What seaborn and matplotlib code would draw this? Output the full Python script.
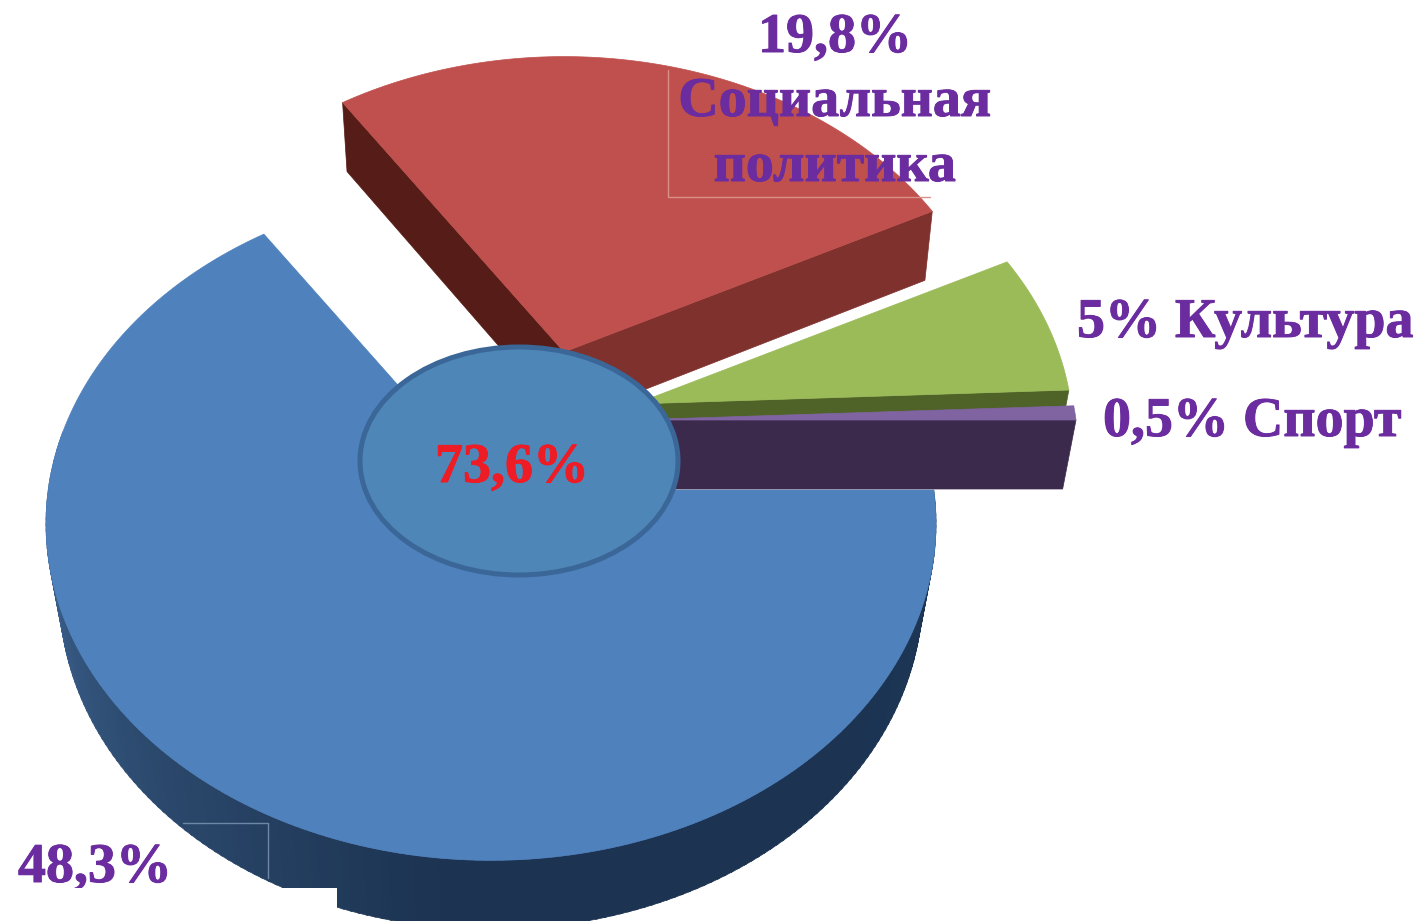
import numpy as np
import matplotlib
matplotlib.use("Agg")
import matplotlib.pyplot as plt
import matplotlib.patheffects as pe
from matplotlib.patches import Ellipse, Polygon, Rectangle
import seaborn as sns

# ---- data ----
categories = ["Прочее", "Социальная политика", "Культура", "Спорт"]
shares = [48.3, 19.8, 5.0, 0.5]
share_labels = ["48,3%", "19,8%\nСоциальная\nполитика", "5% Культура", "0,5% Спорт"]
total_label = "73,6%"

# ---- style ----
top_colors = ["#4f81bd", "#c0504d", "#9bbb59", "#8064a2"]
TEXT = "#6b2ca0"
apex = [(491, 490), (564, 352), (635, 404), (631, 420)]
scale = [0.995, 0.97, 0.98, 1.0]
shrink_x = [0.97, 0.98, 0.97, 0.97]
shrink_y = [1.0, 1.0, 0.97, 0.97]
RX, RY, P = 445.0, 335.0, 0.10
DEPTH = 69.0

sns.set_theme(style="white")
plt.rcParams["font.family"] = ["Liberation Serif", "DejaVu Serif"]

fig = plt.figure(figsize=(14.26, 9.21), dpi=100, facecolor="white")
ax = fig.add_axes([0, 0, 1, 1])
ax.set_xlim(0, 1426)
ax.set_ylim(921, 0)
ax.axis("off")


def project(theta_deg, i):
    t = np.radians(theta_deg)
    u, v = np.cos(t), np.sin(t)
    s = scale[i] / (1 - P * v)
    return apex[i][0] + RX * u * s, apex[i][1] + RY * v * s


def lower(x, y, i):
    return (apex[i][0] + shrink_x[i] * (x - apex[i][0]),
            apex[i][1] + shrink_y[i] * (y - apex[i][1]) + DEPTH)


def face(points, color, z):
    ax.add_patch(Polygon(points, closed=True, facecolor=color, edgecolor=color,
                         linewidth=0.5, zorder=z))


def radial_face(theta, i, color, z):
    x, y = project(theta, i)
    a = apex[i]
    face([a, (x, y), lower(x, y, i), (a[0], a[1] + DEPTH)], color, z)


def top_face(t0, t1, i, z):
    th = np.linspace(t0, t1, 200)
    x, y = project(th, i)
    face([apex[i]] + list(zip(x, y)), top_colors[i], z)


edges = np.concatenate([[0], np.cumsum(shares)]) / sum(shares) * 360

# blue slice: outer wall with gradient, then top
wall = sns.blend_palette(["#1d3757", "#1c3351", "#1c3351", "#2e4d72", "#41699a"], 190)
for k, c in enumerate(wall):
    x0, y0 = project(k, 0)
    x1, y1 = project(k + 1.3, 0)
    face([(x0, y0), (x1, y1), lower(x1, y1, 0), lower(x0, y0, 0)], c, 1)
top_face(edges[0], edges[1], 0, 2)

# red slice
radial_face(edges[1], 1, "#561c17", 3)
radial_face(edges[2], 1, "#7f312e", 3)
top_face(edges[1], edges[2], 1, 4)

# green slice
radial_face(edges[3], 2, "#4f6228", 5)
top_face(edges[2], edges[3], 2, 6)

# purple slice
radial_face(edges[4], 3, "#3c2a4d", 7)
top_face(edges[3], edges[4], 3, 8)

# centre disc
ax.add_patch(Ellipse((519, 461), 318, 228, facecolor="#4f86b8", edgecolor="#3a6798",
                     linewidth=3.6, zorder=9))

# pale leader-box remnants
ax.plot([668, 668, 930], [70, 197, 197], color="#dc8f8a", lw=1.0, zorder=10)
ax.plot([183, 268, 268], [823, 823, 878], color="#6d88a6", lw=1.0, zorder=10)

heavy = [pe.withStroke(linewidth=0.7, foreground=TEXT)]
font = dict(fontweight="bold", fontsize=40.3, color=TEXT, zorder=11, path_effects=heavy)
ax.text(18, 868, share_labels[0], ha="left", va="center", **font)
soc = share_labels[1].split("\n")
ax.text(835, 38, soc[0], ha="center", va="center", **font)
ax.text(835, 102, soc[1], ha="center", va="center", **font)
ax.text(835, 167, soc[2], ha="center", va="center", **font)
ax.text(1077, 323, share_labels[2], ha="left", va="center", **font)
ax.text(1103, 422, share_labels[3], ha="left", va="center", **font)
ax.text(512, 468, total_label, ha="center", va="center", fontweight="bold",
        fontsize=40.3, color="#ee1c25", zorder=11,
        path_effects=[pe.withStroke(linewidth=0.7, foreground="#ee1c25")])

# white cover at the lower-left corner
ax.add_patch(Rectangle((0, 888), 337, 40, facecolor="white", edgecolor="none", zorder=12))

sns.despine(ax=ax, left=True, bottom=True)
fig.savefig("out.png", dpi=100, facecolor="white")
